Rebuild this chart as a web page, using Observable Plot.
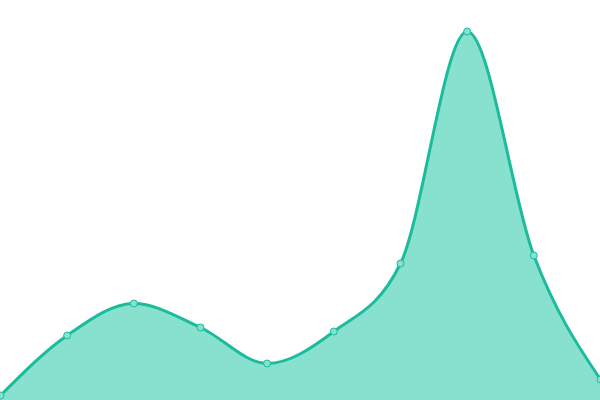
<!DOCTYPE html>
<html><head><meta charset="utf-8">
<script src="https://cdn.jsdelivr.net/npm/d3@7"></script>
<script src="https://cdn.jsdelivr.net/npm/@observablehq/plot@0.6"></script>
<style>body{margin:0;background:#fff}</style>
</head><body><div id="chart"></div>
<script>
const xs = [0,1,2,3,4,5,6,7,8,9];
const values = [5,65,97,73,37,69,137,369,145,21];
const data = xs.map((x,i)=>({x, y: values[i]}));
const chart = Plot.plot({
  width: 600, height: 400,
  margin: 0,
  x: {domain: [0,9], axis: null},
  y: {domain: [0,400], axis: null},
  marks: [
    Plot.areaY(data, {x:"x", y:"y", curve:"monotone-x", fill:"#88e0cf"}),
    Plot.lineY(data, {x:"x", y:"y", curve:"monotone-x", stroke:"#1abc9c", strokeWidth:3}),
    Plot.dot(data, {x:"x", y:"y", r:3.5, fill:"#88e0cf", stroke:"#1abc9c", strokeWidth:1})
  ]
});
document.getElementById("chart").appendChild(chart);
</script></body></html>
